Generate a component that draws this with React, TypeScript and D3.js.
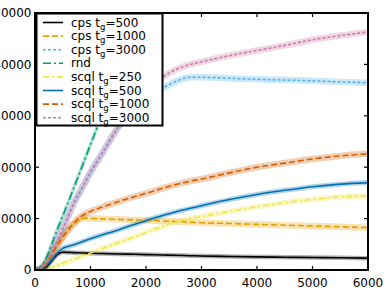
import React from "react";
import * as d3 from "d3";

const xs = [0, 100, 200, 300, 400, 500, 600, 700, 800, 900, 1000, 1200, 1500, 1800, 2000, 2300, 2500, 2800, 3000, 3500, 4000, 4500, 5000, 5500, 6000];

const cps500 = [0, 80, 500, 1800, 3000, 3450, 3420, 3380, 3350, 3300, 3250, 3200, 3120, 3050, 3000, 2920, 2870, 2780, 2720, 2630, 2550, 2490, 2430, 2370, 2300];
const cps1000 = [0, 200, 1200, 3000, 4800, 6400, 7900, 9000, 9800, 10100, 10050, 9950, 9850, 9750, 9700, 9550, 9450, 9300, 9200, 9050, 8880, 8720, 8560, 8400, 8240];
const cps3000 = [0, 300, 1500, 3500, 5700, 8000, 10500, 13000, 15000, 17000, 19000, 22500, 27800, 31800, 33800, 35400, 36500, 37500, 37500, 37300, 37100, 36950, 36800, 36600, 36450];
const rnd = [0, 500, 2200, 5000, 7800, 10500, 13200, 16000, 18800, 21600, 24400, 30000, 38400, 46800, 52400, null, null, null, null, null, null, null, null, null, null];
const scql250 = [0, 0, 150, 500, 900, 1300, 1700, 2100, 2500, 2900, 3300, 4100, 5300, 6500, 7300, 8500, 9300, 10000, 10400, 11400, 12300, 13100, 13750, 14200, 14450];
const scql500 = [0, 150, 800, 2000, 3300, 4200, 4600, 4900, 5300, 5700, 6100, 6800, 7800, 8900, 9600, 10600, 11200, 12000, 12500, 13700, 14700, 15500, 16200, 16700, 17000];
const scql1000 = [0, 200, 1200, 3000, 4800, 6400, 7900, 9100, 10200, 10900, 11400, 12200, 13300, 14300, 14900, 15900, 16500, 17300, 17700, 18900, 20000, 20800, 21600, 22200, 22600];
const scql3000 = [0, 300, 1500, 3500, 5700, 8000, 10500, 13000, 15000, 17000, 19000, 22500, 27800, 32000, 34500, 37500, 38800, 40000, 40500, 41700, 42700, 43700, 44800, 45600, 46300];

const xTicks = [0, 1000, 2000, 3000, 4000, 5000, 6000];
const yTicks = [0, 10000, 20000, 30000, 40000, 50000];

const series = [
  { name: "cps", tg: "500", values: cps500, color: "#000000", dash: "", band: 3 },
  { name: "cps", tg: "1000", values: cps1000, color: "#E69F00", dash: "6,3", band: 5 },
  { name: "cps", tg: "3000", values: cps3000, color: "#56B4E9", dash: "3,2", band: 5 },
  { name: "rnd", tg: null, values: rnd, color: "#009E73", dash: "8,3,2,3", band: 2 },
  { name: "scql", tg: "250", values: scql250, color: "#F0E442", dash: "6,3,2,3", band: 4 },
  { name: "scql", tg: "500", values: scql500, color: "#0072B2", dash: "", band: 3.5 },
  { name: "scql", tg: "1000", values: scql1000, color: "#D55E00", dash: "6,3", band: 5 },
  { name: "scql", tg: "3000", values: scql3000, color: "#CC79A7", dash: "3,2", band: 5 },
];

const W = 388, H = 291;
const L = 35, R = 368, T = 13, B = 270;

export default function App() {
  const x = d3.scaleLinear().domain([0, 6000]).range([L, R]);
  const y = d3.scaleLinear().domain([0, 50000]).range([B, T]);
  const font = "DejaVu Sans, sans-serif";

  const makeLine = (vals: (number | null)[]) =>
    d3
      .line<number>()
      .defined((_, i) => vals[i] != null)
      .x((d) => x(d))
      .y((_, i) => y(vals[i] as number))
      .curve(d3.curveMonotoneX)(xs) || "";

  const legX = 36.5, legY = 13.5, legW = 126, legH = 112;
  const rowY = (i: number) => 22.5 + i * 13.6;

  return (
    <div style={{ position: "fixed", left: 0, top: 0 }}>
      <svg width={W} height={H} style={{ display: "block", background: "#fff" }}>
        <defs>
          <clipPath id="plot">
            <rect x={L} y={T} width={R - L} height={B - T} />
          </clipPath>
        </defs>
        <rect width={W} height={H} fill="#fff" />
        <g clipPath="url(#plot)">
          {series.map((s, i) => (
            <path key={"b" + i} d={makeLine(s.values)} fill="none" stroke={s.color} strokeOpacity={0.3} strokeWidth={s.band + 1.5} strokeLinecap="round" />
          ))}
          {series.map((s, i) => (
            <path key={"l" + i} d={makeLine(s.values)} fill="none" stroke={s.color} strokeWidth={1.6} strokeDasharray={s.dash} />
          ))}
        </g>
        {xTicks.map((t) => (
          <g key={"xt" + t}>
            <line x1={x(t)} x2={x(t)} y1={B} y2={B - 4} stroke="#000" strokeWidth={1.2} />
            <line x1={x(t)} x2={x(t)} y1={T} y2={T + 4} stroke="#000" strokeWidth={1.2} />
            <text x={x(t)} y={287} textAnchor="middle" fontFamily={font} fontSize={12} fill="#000">
              {t}
            </text>
          </g>
        ))}
        {yTicks.map((t) => (
          <g key={"yt" + t}>
            <line x1={L} x2={L + 4} y1={y(t)} y2={y(t)} stroke="#000" strokeWidth={1.2} />
            <line x1={R} x2={R - 4} y1={y(t)} y2={y(t)} stroke="#000" strokeWidth={1.2} />
            <text x={31.5} y={y(t)} dy="0.36em" textAnchor="end" fontFamily={font} fontSize={12} fill="#000">
              {t}
            </text>
          </g>
        ))}
        <rect x={L} y={T} width={R - L} height={B - T} fill="none" stroke="#000" strokeWidth={2} />
        <rect x={legX} y={legY} width={legW} height={legH} fill="#fff" stroke="#000" strokeWidth={2} />
        {series.map((s, i) => (
          <g key={"lg" + i}>
            <line x1={43} x2={63} y1={rowY(i)} y2={rowY(i)} stroke={s.color} strokeWidth={1.6} strokeDasharray={s.dash} />
            <text x={71} y={rowY(i) + 4} fontFamily={font} fontSize={12} fill="#000">
              {s.tg == null ? (
                s.name
              ) : (
                <>
                  {s.name + " t"}
                  <tspan fontSize={8.5} dy={3}>g</tspan>
                  <tspan dy={-3}>{"=" + s.tg}</tspan>
                </>
              )}
            </text>
          </g>
        ))}
      </svg>
    </div>
  );
}
